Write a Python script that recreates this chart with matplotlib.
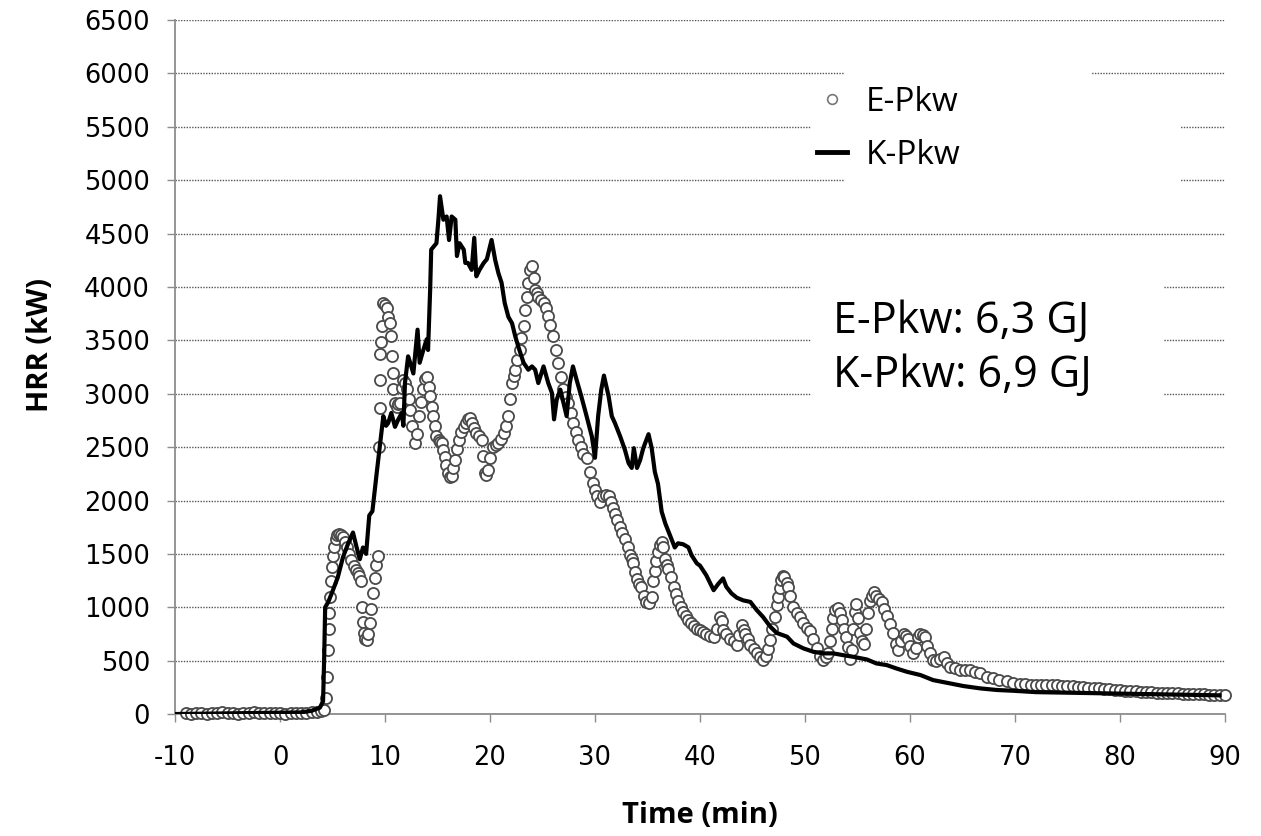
import matplotlib
matplotlib.use('Agg')
import matplotlib.pyplot as plt
from matplotlib.lines import Line2D
from matplotlib.patches import Rectangle

plt.rcParams['axes.unicode_minus'] = False

# E-Pkw (open circles)
e_time = [-9.0, -8.5, -8.0, -7.5, -7.0, -6.5, -6.0, -5.5, -5.0, -4.5, -4.0, -3.5, -3.0, -2.5,
          -2.0, -1.5, -1.0, -0.5, 0.0, 0.5, 1.0, 1.5, 2.0, 2.5, 3.0, 3.5,
          3.9, 4.2, 4.35, 4.45, 4.55, 4.62, 4.7, 4.78, 4.85, 4.95, 5.05, 5.15, 5.3, 5.45,
          5.6, 5.8, 6.0, 6.2, 6.4, 6.6, 6.8, 7.0, 7.2, 7.4, 7.55, 7.7, 7.8, 7.9, 8.0, 8.1,
          8.25, 8.4, 8.55, 8.7, 8.85, 9.0, 9.15, 9.3, 9.45, 9.5, 9.52, 9.55, 9.6, 9.68, 9.84,
          10.0, 10.15, 10.3, 10.45, 10.6, 10.65, 10.75, 10.8, 10.95, 11.1, 11.25, 11.4, 11.6,
          11.75, 11.9, 12.1, 12.25, 12.4, 12.6, 12.85, 13.0, 13.2, 13.4, 13.65, 13.85, 13.97,
          14.15, 14.3, 14.45, 14.6, 14.75, 14.9, 15.1, 15.25, 15.4, 15.55, 15.7, 15.85, 16.0,
          16.2, 16.35, 16.5, 16.7, 16.85, 17.0, 17.2, 17.5, 17.7, 17.9, 18.1, 18.3, 18.5, 18.7,
          18.95, 19.2, 19.35, 19.5, 19.65, 19.8, 20.0, 20.3, 20.55, 20.8, 21.05, 21.3, 21.55,
          21.75, 21.9, 22.1, 22.25, 22.4, 22.6, 22.85, 23.0, 23.2, 23.35, 23.5, 23.65, 23.8,
          24.0, 24.15, 24.3, 24.45, 24.6, 24.85, 25.1, 25.3, 25.55, 25.75, 26.0, 26.25, 26.5,
          26.75, 27.0, 27.2, 27.45, 27.7, 27.9, 28.15, 28.4, 28.65, 28.9, 29.2, 29.5, 29.8,
          30.0, 30.15, 30.5, 30.8, 31.05, 31.3, 31.5, 31.7, 31.9, 32.1, 32.4, 32.6, 32.85,
          33.1, 33.3, 33.5, 33.65, 33.85, 34.0, 34.2, 34.4, 34.65, 34.9, 35.15, 35.4, 35.55,
          35.7, 35.85, 36.0, 36.2, 36.35, 36.5, 36.7, 36.85, 37.0, 37.25, 37.5, 37.7, 37.9,
          38.15, 38.4, 38.65, 38.9, 39.15, 39.4, 39.7, 40.0, 40.3, 40.6, 40.95, 41.3, 41.6,
          41.9, 42.05, 42.2, 42.5, 42.9, 43.2, 43.5, 43.75, 44.0, 44.15, 44.3, 44.55, 44.8,
          45.1, 45.4, 45.7, 46.0, 46.25, 46.5, 46.7, 46.9, 47.1, 47.3, 47.45, 47.6, 47.75,
          47.9, 48.05, 48.25, 48.4, 48.6, 48.9, 49.2, 49.5, 49.85, 50.2, 50.5, 50.8, 51.1,
          51.4, 51.75, 52.0, 52.2, 52.4, 52.55, 52.7, 52.9, 53.1, 53.3, 53.5, 53.7, 53.9,
          54.1, 54.3, 54.45, 54.6, 54.75, 54.9, 55.05, 55.2, 55.4, 55.6, 55.8, 56.0, 56.2,
          56.4, 56.6, 56.8, 57.05, 57.3, 57.55, 57.8, 58.1, 58.4, 58.65, 58.9, 59.15, 59.4,
          59.6, 59.8, 60.05, 60.3, 60.55, 60.8, 61.0, 61.2, 61.4, 61.65, 61.9, 62.2, 62.5,
          62.85, 63.2, 63.5, 63.8, 64.3, 64.8, 65.25, 65.7, 66.2, 66.7, 67.3, 67.9, 68.5,
          69.2, 69.8, 70.5, 71.0, 71.5, 72.0, 72.5, 73.0, 73.5, 74.0, 74.5, 75.0, 75.5, 76.0,
          76.5, 77.0, 77.5, 78.0, 78.5, 79.0, 79.5, 80.0, 80.5, 81.0, 81.5, 82.0, 82.5, 83.0,
          83.5, 84.0, 84.5, 85.0, 85.5, 86.0, 86.5, 87.0, 87.5, 88.0, 88.5, 89.0, 89.5, 90.0]
e_hrr = [5, 0, 10, 5, 0, 10, 5, 15, 5, 10, 0, 10, 5, 15,
         10, 5, 10, 5, 10, 0, 5, 10, 5, 10, 15, 20,
         25, 40, 150, 350, 600, 800, 950, 1100, 1250, 1380, 1480, 1560, 1640, 1680,
         1690, 1680, 1660, 1610, 1560, 1500, 1440, 1390, 1350, 1320, 1290, 1250, 1000, 860, 760, 700,
         690, 750, 850, 980, 1130, 1270, 1400, 1480, 2500, 2870, 3130, 3370, 3480, 3630, 3850,
         3830, 3800, 3720, 3660, 3540, 3350, 3190, 3040, 2910, 2880, 2900, 2910, 3050,
         3130, 3100, 3040, 2950, 2850, 2700, 2540, 2620, 2790, 2920, 3040, 3140, 3160,
         3060, 2975, 2880, 2790, 2700, 2600, 2570, 2550, 2540, 2470, 2410, 2330, 2260,
         2220, 2225, 2300, 2380, 2480, 2570, 2640, 2690, 2730, 2760, 2770, 2725, 2680, 2630,
         2600, 2570, 2420, 2260, 2240, 2290, 2400, 2500, 2520, 2540, 2580, 2630, 2700,
         2790, 2950, 3100, 3170, 3225, 3320, 3410, 3520, 3630, 3780, 3910, 4040, 4160,
         4195, 4080, 3975, 3940, 3910, 3880, 3850, 3800, 3725, 3640, 3540, 3410, 3290,
         3160, 3040, 2970, 2910, 2820, 2725, 2640, 2570, 2500, 2440, 2400, 2270, 2160,
         2100, 2045, 1990, 2045, 2050, 2045, 1990, 1930, 1870, 1820, 1750, 1700, 1640,
         1560, 1490, 1450, 1410, 1330, 1265, 1220, 1190, 1110, 1050, 1040, 1100, 1250,
         1340, 1430, 1520, 1580, 1610, 1560, 1450, 1400, 1360, 1280, 1190, 1120, 1060,
         1000, 960, 920, 880, 850, 820, 800, 790, 770, 750, 730, 720, 800,
         910, 870, 790, 750, 700, 680, 650, 740, 830, 790, 750, 700, 650,
         610, 570, 530, 510, 540, 610, 690, 800, 910, 1020, 1100, 1180, 1260,
         1290, 1280, 1230, 1190, 1110, 1005, 950, 910, 850, 810, 780, 700, 620,
         540, 505, 530, 570, 680, 800, 900, 975, 990, 950, 880, 800, 720,
         630, 520, 600, 800, 960, 1030, 900, 760, 680, 660, 800, 950, 1060,
         1110, 1140, 1110, 1080, 1050, 980, 920, 840, 760, 660, 600, 680, 750,
         730, 700, 640, 570, 620, 720, 750, 740, 720, 640, 570, 510, 500,
         520, 530, 480, 445, 430, 415, 410, 410, 390, 380, 350, 335, 320,
         305, 295, 285, 280, 275, 272, 270, 272, 270, 268, 265, 262, 258, 255,
         252, 248, 244, 240, 236, 232, 228, 224, 220, 215, 212, 208, 205, 203,
         200, 198, 196, 194, 193, 192, 190, 188, 187, 185, 182, 180, 178, 177]

# K-Pkw (solid line)
k_time = [-10.0, -6.0, -2.0, 2.0, 3.0, 3.8, 4.1, 4.2, 4.3, 4.6, 5.0, 5.5, 6.0, 6.5, 6.95,
          7.3, 7.6, 7.9, 8.2, 8.5, 8.8, 9.2, 9.5, 9.84, 10.1, 10.3, 10.6, 10.95, 11.27,
          11.6, 11.75, 11.9, 12.2, 12.4, 12.7, 12.95, 13.1, 13.3, 13.65, 13.97, 14.1, 14.3,
          14.4, 14.9, 15.1, 15.24, 15.56, 15.87, 16.1, 16.35, 16.7, 16.85, 17.1, 17.5, 17.65,
          17.9, 18.25, 18.5, 18.7, 19.0, 19.4, 19.7, 20.15, 20.5, 20.8, 21.1, 21.4, 21.75,
          22.1, 22.4, 22.7, 23.2, 23.65, 24.0, 24.3, 24.6, 25.1, 25.55, 25.9, 26.1, 26.35,
          26.7, 27.0, 27.3, 27.6, 27.9, 28.25, 28.7, 29.2, 29.7, 30.0, 30.3, 30.6, 30.85,
          31.3, 31.6, 31.9, 32.4, 32.85, 33.2, 33.5, 33.7, 34.0, 34.3, 34.6, 35.1, 35.4,
          35.7, 36.0, 36.35, 36.7, 37.0, 37.3, 37.6, 37.9, 38.4, 38.9, 39.2, 39.7, 40.0,
          40.6, 41.3, 41.75, 42.2, 42.5, 43.0, 43.5, 44.1, 44.8, 45.4, 46.0, 46.7, 47.3,
          48.3, 48.9, 49.85, 50.8, 51.75, 52.7, 53.6, 54.6, 55.9, 56.8, 57.8, 58.7, 59.7,
          61.0, 62.2, 63.5, 65.1, 66.7, 68.3, 69.8, 72.0, 75.0, 78.0, 81.0, 84.0, 87.0, 89.5]
k_hrr = [0, 5, 10, 15, 30, 60, 120, 500, 1000, 1050, 1150, 1280, 1470, 1600, 1700,
         1560, 1450, 1560, 1500, 1860, 1900, 2250, 2500, 2790, 2700, 2725, 2820, 2690, 2760,
         2820, 2700, 3100, 3350, 3290, 3190, 3440, 3600, 3290, 3410, 3510, 3410, 3975,
         4350, 4410, 4650, 4850, 4630, 4660, 4440, 4660, 4630, 4290, 4410, 4350, 4225,
         4225, 4160, 4460, 4100, 4160, 4225, 4260, 4440, 4250, 4130, 4040, 3850, 3720,
         3660, 3540, 3440, 3290, 3225, 3256, 3225, 3100, 3256, 3100, 3007, 2760, 2944,
         3038, 2913, 2790, 3100, 3256, 3130, 2975, 2790, 2600, 2400, 2790, 3040, 3170,
         2975, 2790, 2725, 2600, 2475, 2350, 2305, 2490, 2305, 2379, 2491, 2621, 2491,
         2268, 2156, 1896, 1784, 1710, 1636, 1560, 1599, 1590, 1561, 1487, 1411, 1390,
         1300, 1160, 1220, 1270, 1193, 1130, 1090, 1065, 1050, 974, 910, 818, 760,
         724, 661, 615, 583, 568, 568, 552, 536, 511, 474, 458, 427, 396,
         365, 318, 293, 262, 240, 225, 218, 205, 200, 195, 190, 185, 180, 175]

x_ticks = list(range(-10, 91, 10))
y_ticks = list(range(0, 6501, 500))

fig = plt.figure(figsize=(12.61, 8.36), dpi=100)
ax = fig.add_axes([0.1388, 0.1459, 0.8326, 0.8301])

ax.plot(e_time, e_hrr, linestyle='none', marker='o', markersize=8,
        markerfacecolor='white', markeredgecolor='#4a4a4a', markeredgewidth=1.3,
        clip_on=False, zorder=3)
ax.plot(k_time, k_hrr, color='black', linewidth=3.0, solid_joinstyle='round', zorder=4)

ax.set_xlim(-10, 90)
ax.set_ylim(0, 6500)
ax.set_xticks(x_ticks)
ax.set_yticks(y_ticks)

ax.set_axisbelow(True)
ax.yaxis.grid(True, linestyle=(0, (1, 1)), color='#555555', linewidth=1.0)
ax.xaxis.grid(False)

for s in ['top', 'right']:
    ax.spines[s].set_visible(False)
for s in ['left', 'bottom']:
    ax.spines[s].set_color('#8c8c8c')
    ax.spines[s].set_linewidth(1.3)

ax.tick_params(axis='both', direction='out', length=6, width=1, color='#8c8c8c',
               labelsize=18.5)
ax.tick_params(axis='x', pad=16)
ax.tick_params(axis='y', pad=12)

ax.set_xlabel('Time (min)', fontfamily='Open Sans', fontweight='bold', fontsize=21)
ax.set_ylabel('HRR (kW)', fontfamily='Open Sans', fontweight='bold', fontsize=21)
ax.xaxis.set_label_coords(0.5, -0.125)
ax.yaxis.set_label_coords(-0.114, 0.532)

# white boxes behind legend and annotation (hide gridlines)
for (x0, y0, w, h) in [(0.638, 0.76, 0.235, 0.17), (0.6057, 0.78, 0.3514, 0.12),
                       (0.873, 0.76, 0.084, 0.03), (0.6057, 0.44, 0.3362, 0.2)]:
    ax.add_patch(Rectangle((x0, y0), w, h, transform=ax.transAxes,
                           facecolor='white', edgecolor='none', zorder=1))

handles = [Line2D([], [], linestyle='none', marker='o', markersize=7,
                  markerfacecolor='white', markeredgecolor='#777777', markeredgewidth=1.2),
           Line2D([], [], color='black', linewidth=3.5)]
leg = ax.legend(handles, ['E-Pkw', 'K-Pkw'], loc='upper left',
                bbox_to_anchor=(0.583, 0.948), frameon=False, handlelength=0.9,
                handletextpad=0.55, labelspacing=0.6,
                prop={'family': 'Open Sans', 'size': 24})

ax.text(0.627, 0.597, 'E-Pkw: 6,3 GJ\nK-Pkw: 6,9 GJ', transform=ax.transAxes,
        fontfamily='Open Sans', fontsize=31, va='top', ha='left', linespacing=1.27,
        zorder=5)

fig.savefig('out.png', dpi=100)
